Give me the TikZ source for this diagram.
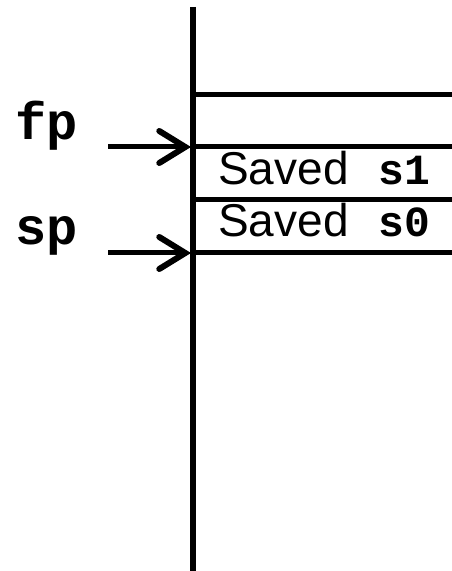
\documentclass[tikz,border=0pt]{standalone}
\usepackage{fontspec}
\setmainfont{Liberation Sans}
\setmonofont{Liberation Mono}
\usetikzlibrary{arrows.meta}
\tikzset{
  wall/.style={line width=5.5pt, line cap=butt},
  slot/.style={line width=5pt},
  ptr/.style={line width=5pt, -{Straight Barb[length=26pt,width=32pt,line width=6pt,line cap=round,line join=miter]}},
  lbl/.style={inner sep=0pt, anchor=base west, font=\fontsize{46}{50}\selectfont},
  reg/.style={inner sep=0pt, anchor=base west, font=\fontsize{52}{56}\selectfont\ttfamily\bfseries},
}
\begin{document}
\begin{tikzpicture}[x=1pt,y=1pt]
\useasboundingbox (0,0) rectangle (452,571);
\coordinate (top) at (193,564);
\coordinate (bot) at (193,0);
\draw[wall] (top) -- (bot);
\coordinate (l0) at (193,476); \coordinate (r0) at (452,476);
\coordinate (l1) at (193,424); \coordinate (r1) at (452,424);
\coordinate (l2) at (193,371); \coordinate (r2) at (452,371);
\coordinate (l3) at (193,318); \coordinate (r3) at (452,318);
\draw[slot] (l0) -- (r0);
\draw[slot] (l1) -- (r1);
\draw[slot] (l2) -- (r2);
\draw[slot] (l3) -- (r3);
\node[reg] (fp) at (15,431) {fp};
\node[reg] (sp) at (15,326) {sp};
\coordinate (fps) at (108,424); \coordinate (fpe) at (191,424);
\coordinate (sps) at (108,318); \coordinate (spe) at (191,318);
\draw[ptr] (fps) -- (fpe);
\draw[ptr] (sps) -- (spe);
\node[lbl] (s1) at (218,386) {Saved\hspace{30pt}{\fontsize{43}{48}\selectfont\texttt{\bfseries s1}}};
\node[lbl] (s0) at (218,334) {Saved\hspace{30pt}{\fontsize{43}{48}\selectfont\texttt{\bfseries s0}}};
\end{tikzpicture}
\end{document}
